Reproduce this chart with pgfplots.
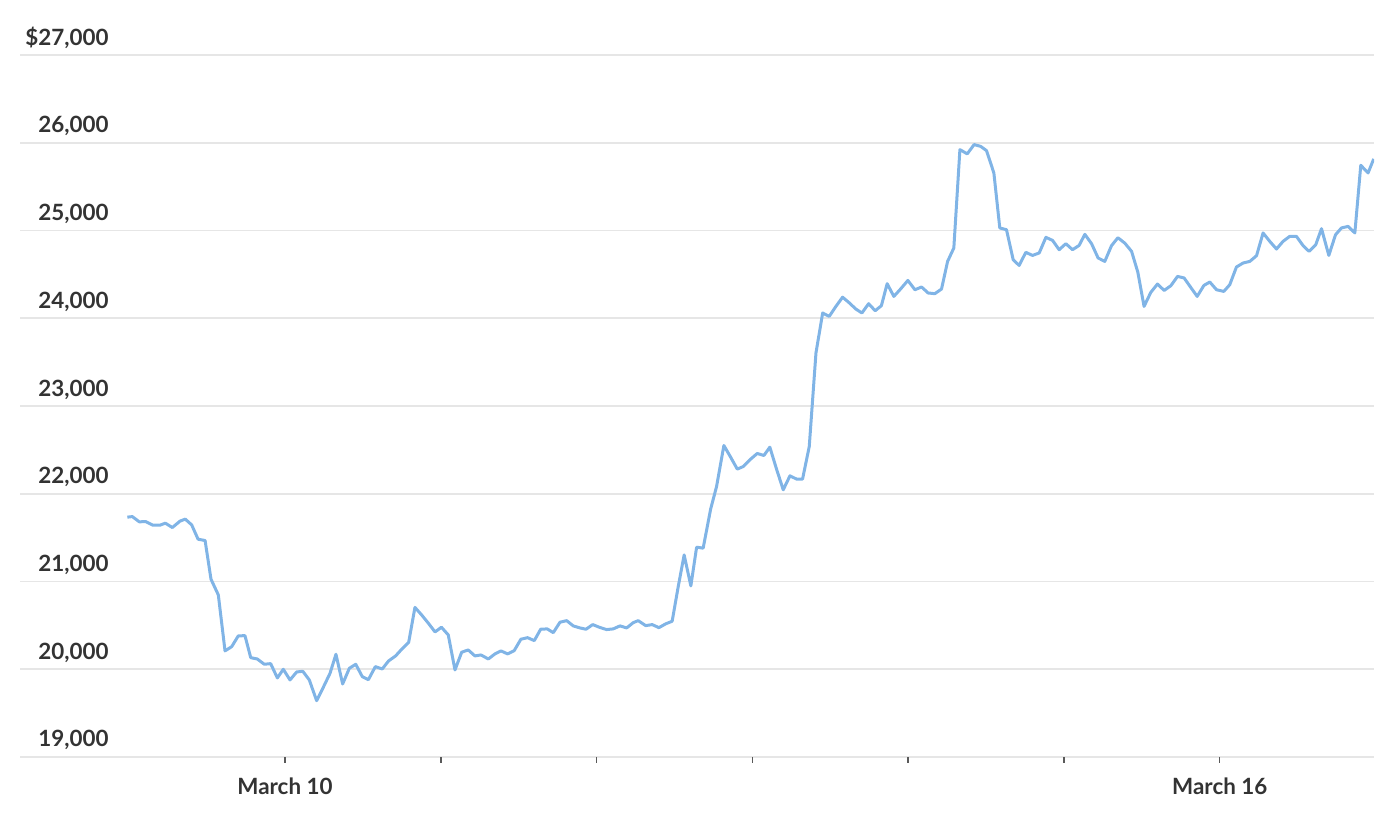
\documentclass[border=0pt]{standalone}
\usepackage{pgfplots}
\pgfplotsset{compat=1.18}
\usepackage{fontspec}
\setmainfont{Lato}
\definecolor{linecol}{HTML}{80B4E6}
\definecolor{gridcol}{HTML}{E6E6E6}
\definecolor{txtcol}{HTML}{333333}
\begin{document}
\begin{tikzpicture}
\path[use as bounding box] (-10pt,-33pt) rectangle (690pt,378.5pt);
\begin{axis}[
  at={(0,0)}, anchor=south west,
  scale only axis, width=677pt, height=351pt,
  xmin=8.299, xmax=16.99, ymin=19000, ymax=27000,
  axis line style={draw=none},
  scaled y ticks=false, scaled x ticks=false,
  ytick={19000,20000,...,27000},
  yticklabels={{19,000},{20,000},{21,000},{22,000},{23,000},{24,000},{25,000},{26,000},{\$27,000}},
  ymajorgrids, grid style={gridcol, line width=0.8pt},
  ytick style={draw=none},
  xtick={10,11,12,13,14,15,16},
  xticklabels={March 10,,,,,,March 16},
  xtick pos=bottom, tick align=outside, major tick length=3pt,
  xtick style={draw=black!65, line width=0.7pt},
  tick label style={font=\bfseries\fontsize{11.2}{13}\selectfont, text=txtcol},
  yticklabel style={anchor=base east, inner sep=0pt, xshift=47.5pt, yshift=5pt},
  xticklabel style={anchor=base, inner sep=0pt, yshift=-16pt},
]
\addplot[linecol, line width=1.5pt, line join=round] table {
x y
8.988 21733
9.020 21740
9.065 21680
9.106 21683
9.151 21642
9.198 21642
9.232 21665
9.277 21615
9.326 21688
9.360 21711
9.401 21645
9.442 21482
9.487 21467
9.525 21026
9.572 20847
9.615 20209
9.658 20258
9.700 20380
9.743 20383
9.780 20132
9.822 20117
9.867 20057
9.908 20064
9.951 19901
9.989 20000
10.032 19878
10.075 19969
10.114 19977
10.156 19878
10.203 19642
10.246 19795
10.289 19954
10.327 20171
10.370 19832
10.413 20011
10.454 20057
10.496 19916
10.535 19881
10.580 20030
10.624 20003
10.665 20095
10.710 20152
10.751 20232
10.794 20308
10.834 20705
10.877 20619
10.920 20525
10.963 20425
11.004 20479
11.048 20391
11.091 19992
11.134 20194
11.176 20220
11.219 20152
11.258 20163
11.305 20117
11.348 20175
11.386 20209
11.429 20175
11.471 20212
11.514 20342
11.557 20360
11.600 20326
11.641 20456
11.683 20460
11.722 20417
11.765 20536
11.808 20554
11.850 20494
11.893 20471
11.932 20456
11.975 20509
12.017 20479
12.064 20452
12.107 20460
12.150 20494
12.193 20471
12.235 20531
12.267 20554
12.315 20497
12.357 20509
12.400 20474
12.443 20517
12.485 20547
12.524 20942
12.562 21303
12.605 20950
12.642 21391
12.684 21380
12.732 21825
12.770 22082
12.817 22550
12.860 22418
12.903 22281
12.941 22310
12.989 22395
13.031 22459
13.074 22436
13.112 22531
13.155 22281
13.198 22045
13.241 22204
13.284 22167
13.322 22167
13.365 22538
13.408 23603
13.451 24060
13.493 24021
13.536 24135
13.579 24240
13.621 24177
13.664 24105
13.703 24060
13.746 24166
13.788 24086
13.828 24143
13.865 24394
13.908 24249
13.951 24333
13.998 24431
14.043 24325
14.086 24356
14.128 24288
14.171 24280
14.214 24333
14.253 24648
14.293 24801
14.332 25922
14.379 25873
14.423 25979
14.465 25959
14.503 25910
14.550 25656
14.588 25029
14.631 25009
14.674 24667
14.712 24602
14.755 24751
14.798 24716
14.841 24744
14.884 24922
14.927 24887
14.969 24781
15.012 24850
15.055 24781
15.097 24830
15.134 24956
15.177 24850
15.219 24687
15.262 24648
15.305 24827
15.346 24918
15.391 24855
15.434 24762
15.474 24525
15.514 24135
15.557 24294
15.600 24390
15.643 24317
15.686 24371
15.729 24477
15.771 24459
15.814 24351
15.855 24249
15.898 24374
15.936 24413
15.979 24325
16.026 24306
16.064 24382
16.107 24584
16.150 24630
16.193 24648
16.236 24713
16.278 24972
16.321 24876
16.364 24789
16.406 24876
16.449 24933
16.492 24933
16.535 24827
16.573 24762
16.616 24838
16.653 25021
16.700 24716
16.743 24952
16.781 25029
16.824 25047
16.867 24972
16.905 25743
16.952 25656
16.988 25816
};
\end{axis}
\end{tikzpicture}
\end{document}
